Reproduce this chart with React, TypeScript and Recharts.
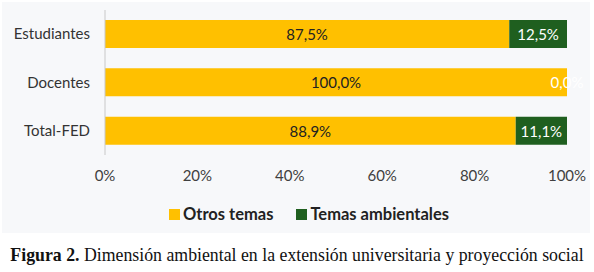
import { BarChart, Bar, XAxis, YAxis, Legend, LabelList } from 'recharts'

const categories = ['Estudiantes', 'Docentes', 'Total-FED']
const otrosTemas = [87.5, 100, 88.9]
const temasAmbientales = [12.5, 0, 11.1]
const xTicks = [0, 20, 40, 60, 80, 100]

const data = categories.map((name, i) => ({
  name,
  otros: otrosTemas[i],
  ambientales: temasAmbientales[i],
}))

const YELLOW = '#ffc000'
const GREEN = '#1f5f1f'
const FONT = 'Lato, "Open Sans", sans-serif'

const fmt = (v: unknown) => `${Number(v).toFixed(1).replace('.', ',')}%`

function CenterLabel({ x, y, width, height, value, fill }: any) {
  return (
    <text
      x={Number(x) + Number(width) / 2}
      y={Number(y) + Number(height) / 2}
      textAnchor="middle"
      dominantBaseline="central"
      fill={fill}
      fontSize={15}
      fontFamily={FONT}
    >
      {fmt(value)}
    </text>
  )
}

// zero-width bars get no label from recharts, so the yellow bar draws the
// 0,0% label at its own end
function OtrosLabel(props: any) {
  const amb = temasAmbientales[props.index]
  return (
    <g>
      <CenterLabel {...props} fill="#222" />
      {amb === 0 && (
        <CenterLabel x={Number(props.x) + Number(props.width)} y={props.y} width={0} height={props.height} value={amb} fill="#fff" />
      )}
    </g>
  )
}

function LegendBox({ payload }: any) {
  return (
    <div style={{ display: 'flex', justifyContent: 'center', gap: 23, fontFamily: FONT, fontWeight: 700, fontSize: 16.5, color: '#222' }}>
      {(payload || []).map((p: any) => (
        <div key={p.value} style={{ display: 'flex', alignItems: 'center', gap: 3 }}>
          <span style={{ display: 'inline-block', width: 11, height: 11, background: p.color }} />
          <span>{p.value}</span>
        </div>
      ))}
    </div>
  )
}

export default function App() {
  return (
    <div style={{ position: 'absolute', left: 0, top: 0, width: 594, height: 272, background: '#fff' }}>
      <div style={{ position: 'absolute', left: 2, top: 2, width: 588, height: 231, background: '#f7f8fa' }} />
      <div style={{ position: 'absolute', left: 0, top: 0 }}>
        <BarChart
          width={594}
          height={235}
          data={data}
          layout="vertical"
          margin={{ top: 10, right: 27, left: 5, bottom: 0 }}
          barSize={28}
          style={{ fontFamily: FONT }}
        >
          <XAxis
            type="number"
            domain={[0, 100]}
            ticks={xTicks}
            tickFormatter={(v: number) => `${v}%`}
            axisLine={false}
            tickLine={false}
            tickMargin={9}
            height={60}
            tick={{ fill: '#404040', fontSize: 15 }}
          />
          <YAxis
            type="category"
            dataKey="name"
            width={100}
            axisLine={{ stroke: '#c8c8c8' }}
            tickLine={false}
            tickMargin={9}
            tick={{ fill: '#333', fontSize: 15 }}
          />
          <Legend
            verticalAlign="bottom"
            wrapperStyle={{ bottom: 11, left: 28 }}
            content={<LegendBox />}
          />
          <Bar dataKey="otros" name="Otros temas" stackId="a" fill={YELLOW} isAnimationActive={false}>
            <LabelList dataKey="otros" content={(p: any) => <OtrosLabel {...p} />} />
          </Bar>
          <Bar dataKey="ambientales" name="Temas ambientales" stackId="a" fill={GREEN} isAnimationActive={false}>
            <LabelList dataKey="ambientales" content={(p: any) => (p.value ? <CenterLabel {...p} fill="#fff" /> : null)} />
          </Bar>
        </BarChart>
      </div>
      <div
        style={{
          position: 'absolute',
          left: 0,
          top: 245,
          width: 594,
          textAlign: 'center',
          fontFamily: '"Liberation Serif", serif',
          fontSize: 17.8,
          color: '#111',
          whiteSpace: 'nowrap',
        }}
      >
        <b>Figura 2.</b> Dimensión ambiental en la extensión universitaria y proyección social
      </div>
    </div>
  )
}
